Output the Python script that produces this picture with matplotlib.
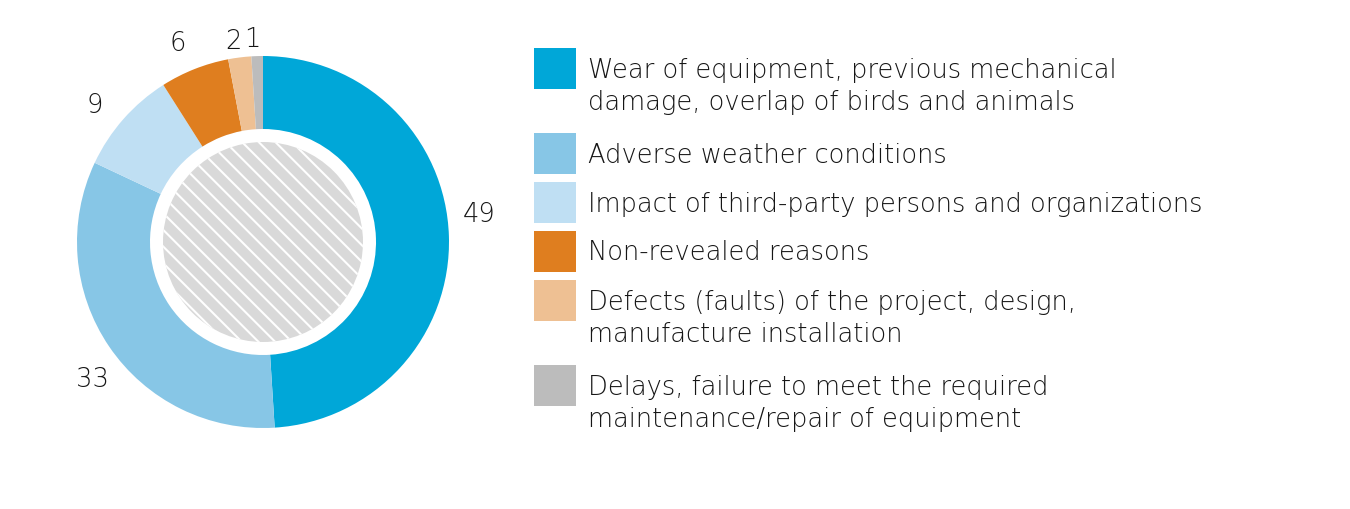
import numpy as np
import matplotlib
matplotlib.use("Agg")
import matplotlib.pyplot as plt
from matplotlib.patches import Circle, Rectangle

plt.rcParams['font.family'] = ['DejaVu Sans']
plt.rcParams['hatch.linewidth'] = 1.5

values = [49, 33, 9, 6, 2, 1]
labels = [
    "Wear of equipment, previous mechanical\ndamage, overlap of birds and animals",
    "Adverse weather conditions",
    "Impact of third-party persons and organizations",
    "Non-revealed reasons",
    "Defects (faults) of the project, design,\nmanufacture installation",
    "Delays, failure to meet the required\nmaintenance/repair of equipment",
]
colors = ['#00a7d8', '#87c6e6', '#bfdff3', '#df7e1f', '#eec093', '#bcbcbc']
text_color = '#161616'

W, H = 1350, 509
fig = plt.figure(figsize=(W / 100, H / 100), dpi=100)
ax = fig.add_axes([0, 0, 1, 1])

cx, cy = 263, H - 242
r_out, r_in, r_hatch = 186, 113, 100

ax.pie(values, colors=colors, startangle=90, counterclock=False,
       radius=r_out, center=(cx, cy),
       wedgeprops=dict(width=r_out - r_in, edgecolor='none', linewidth=0))

# hatched centre
ax.add_patch(Circle((cx, cy), r_hatch, facecolor='#d9d9d9', edgecolor='white',
                    hatch='\\\\', linewidth=0))

# value labels around the ring
start = 90.0
total = sum(values)
for v in values:
    shift = 0.1 * v + 1
    mid = np.deg2rad(start - v / total * 180 + shift)
    start -= v / total * 360
    rr = r_out * (1.17 if v >= 6 else 1.10)
    ax.text(cx + rr * np.cos(mid), cy + rr * np.sin(mid) - 9.5, str(v),
            ha='center', va='baseline', fontsize=18.5, color=text_color,
            fontweight=200)

# legend
line_h = 32
y = H - 48
for lab, col in zip(labels, colors):
    n = lab.count("\n") + 1
    ax.add_patch(Rectangle((534, y - 41), 42, 41, facecolor=col, edgecolor='none'))
    # va='baseline' pins the last line, so drop by the extra lines
    ax.text(588, y - 29.5 - line_h * (n - 1), lab, ha='left', va='baseline',
            fontsize=18.5, color=text_color, fontweight=200, linespacing=1.32)
    y -= 49 + 36 * (n - 1)

ax.set_xlim(0, W)
ax.set_ylim(0, H)
ax.set_aspect('equal')
ax.axis('off')

fig.savefig("out.png", dpi=100)
